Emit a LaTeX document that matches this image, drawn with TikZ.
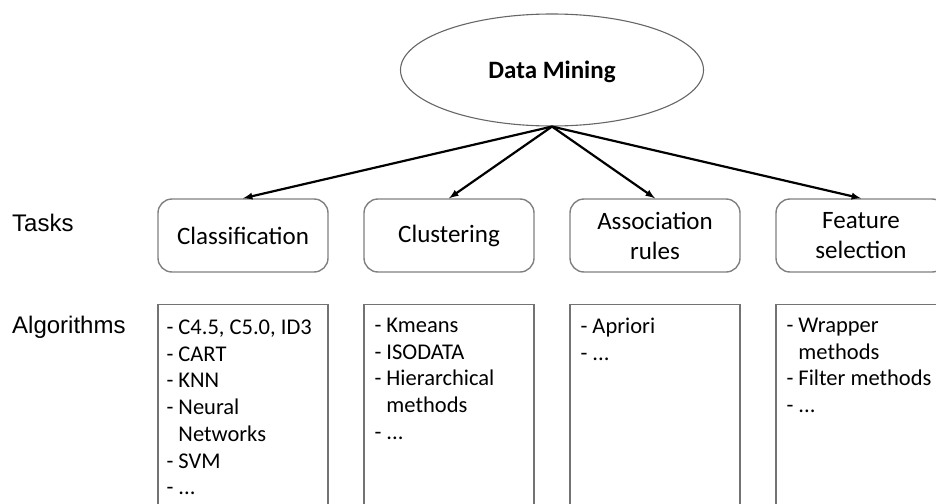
\documentclass[tikz,border=0pt]{standalone}
\usepackage{fontspec}
\setmainfont{Carlito}
\newfontfamily\rowfont{Liberation Sans}
\usetikzlibrary{arrows,shapes.geometric,positioning}
\tikzset{%
  rootnode/.style = {shape=ellipse, draw=black!60, line width=1.1pt,%
                     minimum width=303pt, minimum height=112pt, text depth=0pt,%
                     font=\fontsize{25}{30}\selectfont\bfseries},%
  tasknode/.style = {shape=rectangle, rounded corners=14pt,%
                     draw=black!50, line width=1.4pt, align=center,%
                     minimum width=170pt, minimum height=73pt,%
                     font=\fontsize{25}{30}\selectfont},%
  algobox/.style  = {shape=rectangle, draw=black!55, line width=1.4pt,%
                     minimum width=170pt, minimum height=215pt},%
  algotext/.style = {anchor=north west, inner sep=0pt, align=left,%
                     font=\fontsize{22.5}{26.7}\selectfont},%
  rowlabel/.style = {anchor=west, inner sep=0pt,%
                     font=\rowfont\fontsize{24}{28}\selectfont}%
}
\newcommand{\wrapline}[1]{\hphantom{- }#1}

\begin{document}
\begin{tikzpicture}[x=1pt, y=-1pt, grow=down, level distance=165.5pt,
                    sibling distance=206pt, parent anchor=south, child anchor=north,
                    edge from parent/.style={draw, line width=2.2pt, -latex}]
  \useasboundingbox (0,0) rectangle (936,503);
  \clip (0,0) rectangle (936,503);
  % tasks
  \node[rootnode] (dm) at (552,70) {Data Mining}
    child{node[tasknode] (cls) {Classification}}
    child{node[tasknode] (clu) {Clustering}}
    child{node[tasknode] (asr) {Association\\rules}}
    child{node[tasknode] (fsl) {Feature\\selection}};
  \node[rowlabel] (tasks) at (12,223) {Tasks};
  \node[rowlabel] (algs) at (12,327) {Algorithms};
  % algorithms
  \node[algobox, below=31pt of cls] (clsalg) {};
  \node[algobox, below=31pt of clu] (clualg) {};
  \node[algobox, below=31pt of asr] (asralg) {};
  \node[algobox, below=31pt of fsl] (fslalg) {};
  \node[algotext] (clstxt) at ([xshift=9pt, yshift=-16pt]clsalg.north west)
    {- C4.5, C5.0, ID3\\- CART\\- KNN\\- Neural\\\wrapline{Networks}\\- SVM\\- ...};
  \node[algotext] (clutxt) at ([xshift=11pt, yshift=-14pt]clualg.north west)
    {- Kmeans\\- ISODATA\\- Hierarchical\\\wrapline{methods}\\- ...};
  \node[algotext] (asrtxt) at ([xshift=11pt, yshift=-14pt]asralg.north west)
    {- Apriori\\- ...};
  \node[algotext] (fsltxt) at ([xshift=11pt, yshift=-14pt]fslalg.north west)
    {- Wrapper\\\wrapline{methods}\\- Filter methods\\- ...};
\end{tikzpicture}
\end{document}
